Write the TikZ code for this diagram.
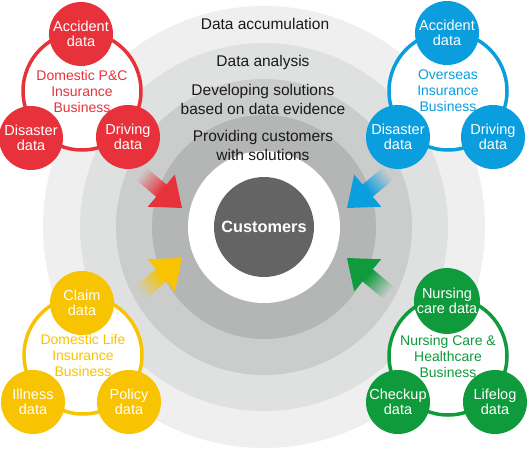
\documentclass[tikz,border=0pt]{standalone}
\usepackage{fontspec}
\setmainfont{Liberation Sans}
\usetikzlibrary{fadings}
\definecolor{BandAccum}{HTML}{EFEFEF}
\definecolor{BandAnalysis}{HTML}{DFE0E0}
\definecolor{BandDevelop}{HTML}{CBCCCC}
\definecolor{BandProvide}{HTML}{B4B5B5}
\definecolor{CustGray}{HTML}{646464}
\definecolor{PCRed}{HTML}{E8323B}
\definecolor{OverseasBlue}{HTML}{0A9EDF}
\definecolor{LifeYellow}{HTML}{F8C300}
\definecolor{CareGreen}{HTML}{0F9A3C}
\definecolor{StageText}{HTML}{1A1A1A}

\begin{document}
\begin{tikzpicture}[
  x=1pt, y=-1pt,
  hub/.style={circle,draw=#1,line width=3.5pt,fill=white,minimum size=118pt,inner sep=0pt,
    text=#1,align=center,font=\fontsize{14}{16}\selectfont},
  datum/.style={circle,fill=#1,minimum size=64pt,inner sep=0pt,text=white,align=center,
    font=\fontsize{14.5}{15.5}\selectfont},
  stage/.style={align=center,text=StageText,font=\fontsize{15.5}{19}\selectfont}
]
  \useasboundingbox (0,0) rectangle (530,450);

  % rings round the customers
  \fill[BandAccum] (264,227) circle[radius=221];
  \fill[BandAnalysis] (264,227) circle[radius=184];
  \fill[BandDevelop] (264,227) circle[radius=148];
  \fill[BandProvide] (264,227) circle[radius=112];
  \fill[white] (264,227) circle[radius=76];
  \node[circle,fill=CustGray,minimum size=100pt,inner sep=0pt,text=white,
    font=\fontsize{16.3}{18}\selectfont\bfseries] (cust) at (264,227) {Customers};

  \node[stage] (accum) at (265,24) {Data accumulation};
  \node[stage] (analysis) at (263,62) {Data analysis};
  \node[stage] (develop) at (263,99) {Developing solutions\\based on data evidence};
  \node[stage] (provide) at (263,145) {Providing customers\\with solutions};

  % domestic P&C
  \node[hub=PCRed] (pc) at (82,91) {Domestic P\&C\\Insurance\\Business};
  \node[datum=PCRed] (pcacc) at (81,34) {Accident\\data};
  \node[datum=PCRed] (pcdis) at (31,138) {Disaster\\data};
  \node[datum=PCRed] (pcdrv) at (128,137) {Driving\\data};

  % overseas
  \node[hub=OverseasBlue] (ovs) at (448,91) {Overseas\\Insurance\\Business};
  \node[datum=OverseasBlue] (ovsacc) at (447,33) {Accident\\data};
  \node[datum=OverseasBlue] (ovsdis) at (398,137) {Disaster\\data};
  \node[datum=OverseasBlue] (ovsdrv) at (493,137) {Driving\\data};

  % domestic life
  \node[hub=LifeYellow] (life) at (83,355) {Domestic Life\\Insurance\\Business};
  \node[datum=LifeYellow] (lifeclaim) at (82,303) {Claim\\data};
  \node[datum=LifeYellow] (lifeill) at (33,402) {Illness\\data};
  \node[datum=LifeYellow] (lifepol) at (129,402) {Policy\\data};

  % nursing care
  \node[hub=CareGreen] (care) at (448,356) {Nursing Care \&\\Healthcare\\Business};
  \node[datum=CareGreen] (carenurse) at (447,301) {Nursing\\care data};
  \node[datum=CareGreen] (carecheck) at (398,402) {Checkup\\data};
  \node[datum=CareGreen] (carelife) at (495,402) {Lifelog\\data};

  % arrows into the centre
  \foreach \col/\tx/\ty/\ang in {PCRed/182/208/-40, OverseasBlue/347/208/-140,
      LifeYellow/182/258/40, CareGreen/347/258/140} {
    \begin{scope}[transform canvas={shift={(\tx,\ty)},rotate=\ang}]
      \fill[\col] (0,0) -- (-27,-21) -- (-27,21) -- cycle;
      \fill[\col,path fading=west] (-26.5,-8) rectangle (-54,8);
    \end{scope}
  }
\end{tikzpicture}
\end{document}
